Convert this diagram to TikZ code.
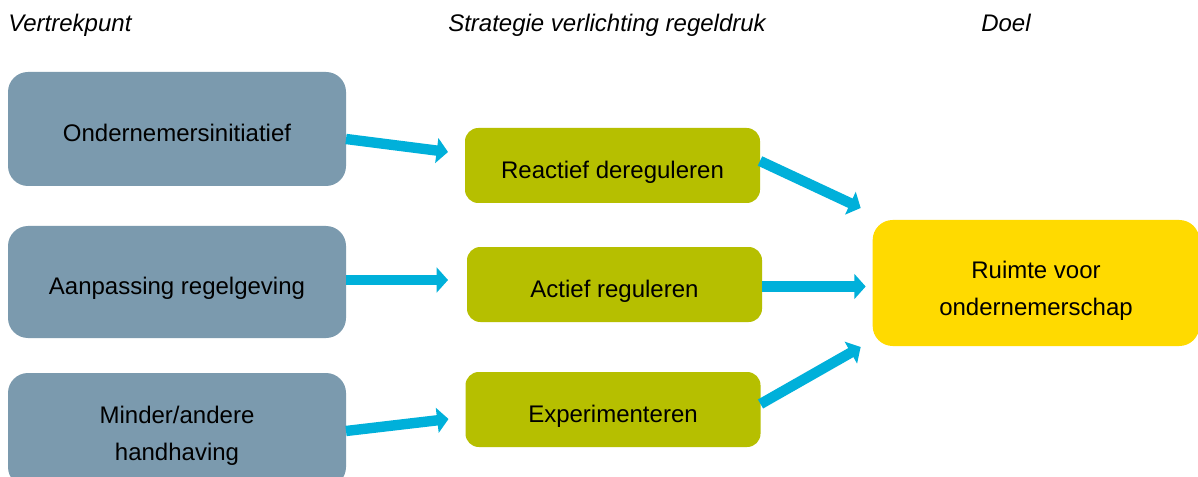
\documentclass[tikz,border=0pt]{standalone}
\usepackage{fontspec}
\setmainfont{Liberation Sans}
\usetikzlibrary{arrows.meta,calc}
\definecolor{boxgray}{RGB}{123,154,174}
\definecolor{boxgreen}{RGB}{182,191,0}
\definecolor{boxyellow}{RGB}{255,218,0}
\definecolor{arrowcyan}{RGB}{0,176,218}
\tikzset{
  txt/.style={font=\fontsize{18}{27.75}\selectfont, text=black, align=center, inner sep=0pt, outer sep=0pt},
  oneline/.style={txt, text height=18.8pt, text depth=0pt},
  title/.style={font=\fontsize{18}{22}\selectfont\itshape, inner sep=0pt, anchor=base west},
  startbox/.style={fill=boxgray, rounded corners=15pt, minimum width=253.5pt, inner sep=0pt, outer sep=0pt},
  stratbox/.style={fill=boxgreen, rounded corners=10pt, minimum width=221.25pt, minimum height=56.25pt, inner sep=0pt, outer sep=0pt},
  goalbox/.style={fill=boxyellow, rounded corners=15pt, minimum width=245pt, minimum height=94.5pt, inner sep=0pt, outer sep=0pt},
  arr/.style={draw=arrowcyan, line width=7.8pt, -{Triangle[length=8.5pt,width=18.5pt]}}
}
\begin{document}
\begin{tikzpicture}[x=0.75pt,y=-0.75pt]
\useasboundingbox (0,0) rectangle (1198,477);
\fill[white] (0,0) rectangle (1198,477);
% titles
\node[title] (t1) at (8,32) {Vertrekpunt};
\node[title] (t2) at (448,32) {Strategie verlichting regeldruk};
\node[title] (t3) at (981,32) {Doel};
% left boxes
\node[startbox, oneline, minimum height=85.5pt] (a1) at (177,129) {Ondernemersinitiatief};
\node[startbox, oneline, minimum height=84pt] (a2) at (177,282) {Aanpassing regelgeving};
\node[startbox, minimum height=85.5pt] (a3) at (177,430) {};
\node[txt] (a3t) at ($(a3.center)+(0,5.5)$) {Minder/andere\\handhaving};
% middle boxes
\node[stratbox, oneline] (b1) at (612.5,165.5) {Reactief dereguleren};
\node[stratbox, oneline] (b2) at (614.5,284.5) {Actief reguleren};
\node[stratbox, oneline] (b3) at (613,409.5) {Experimenteren};
% goal
\node[goalbox] (c) at (1036,283) {};
\node[txt] (ct) at ($(c.center)+(0,7.5)$) {Ruimte voor\\ondernemerschap};
% arrows
\draw[arr] ($(a1.east)+(0,10)$) -- ($(b1.west)+(-17,-13.5)$);
\draw[arr] ($(a2.east)+(0,-2)$) -- ($(b2.west)+(-19,-4.5)$);
\draw[arr] ($(a3.east)+(0,1)$) -- ($(b3.west)+(-17,9.5)$);
\draw[arr] ($(b1.east)+(0,-4.5)$) -- ($(c.west)+(-12,-75)$);
\draw[arr] ($(b2.east)+(0,2)$) -- ($(c.west)+(-7,3.5)$);
\draw[arr] ($(b3.east)+(0,-5.5)$) -- ($(c.west)+(-12,64)$);
\end{tikzpicture}
\end{document}
